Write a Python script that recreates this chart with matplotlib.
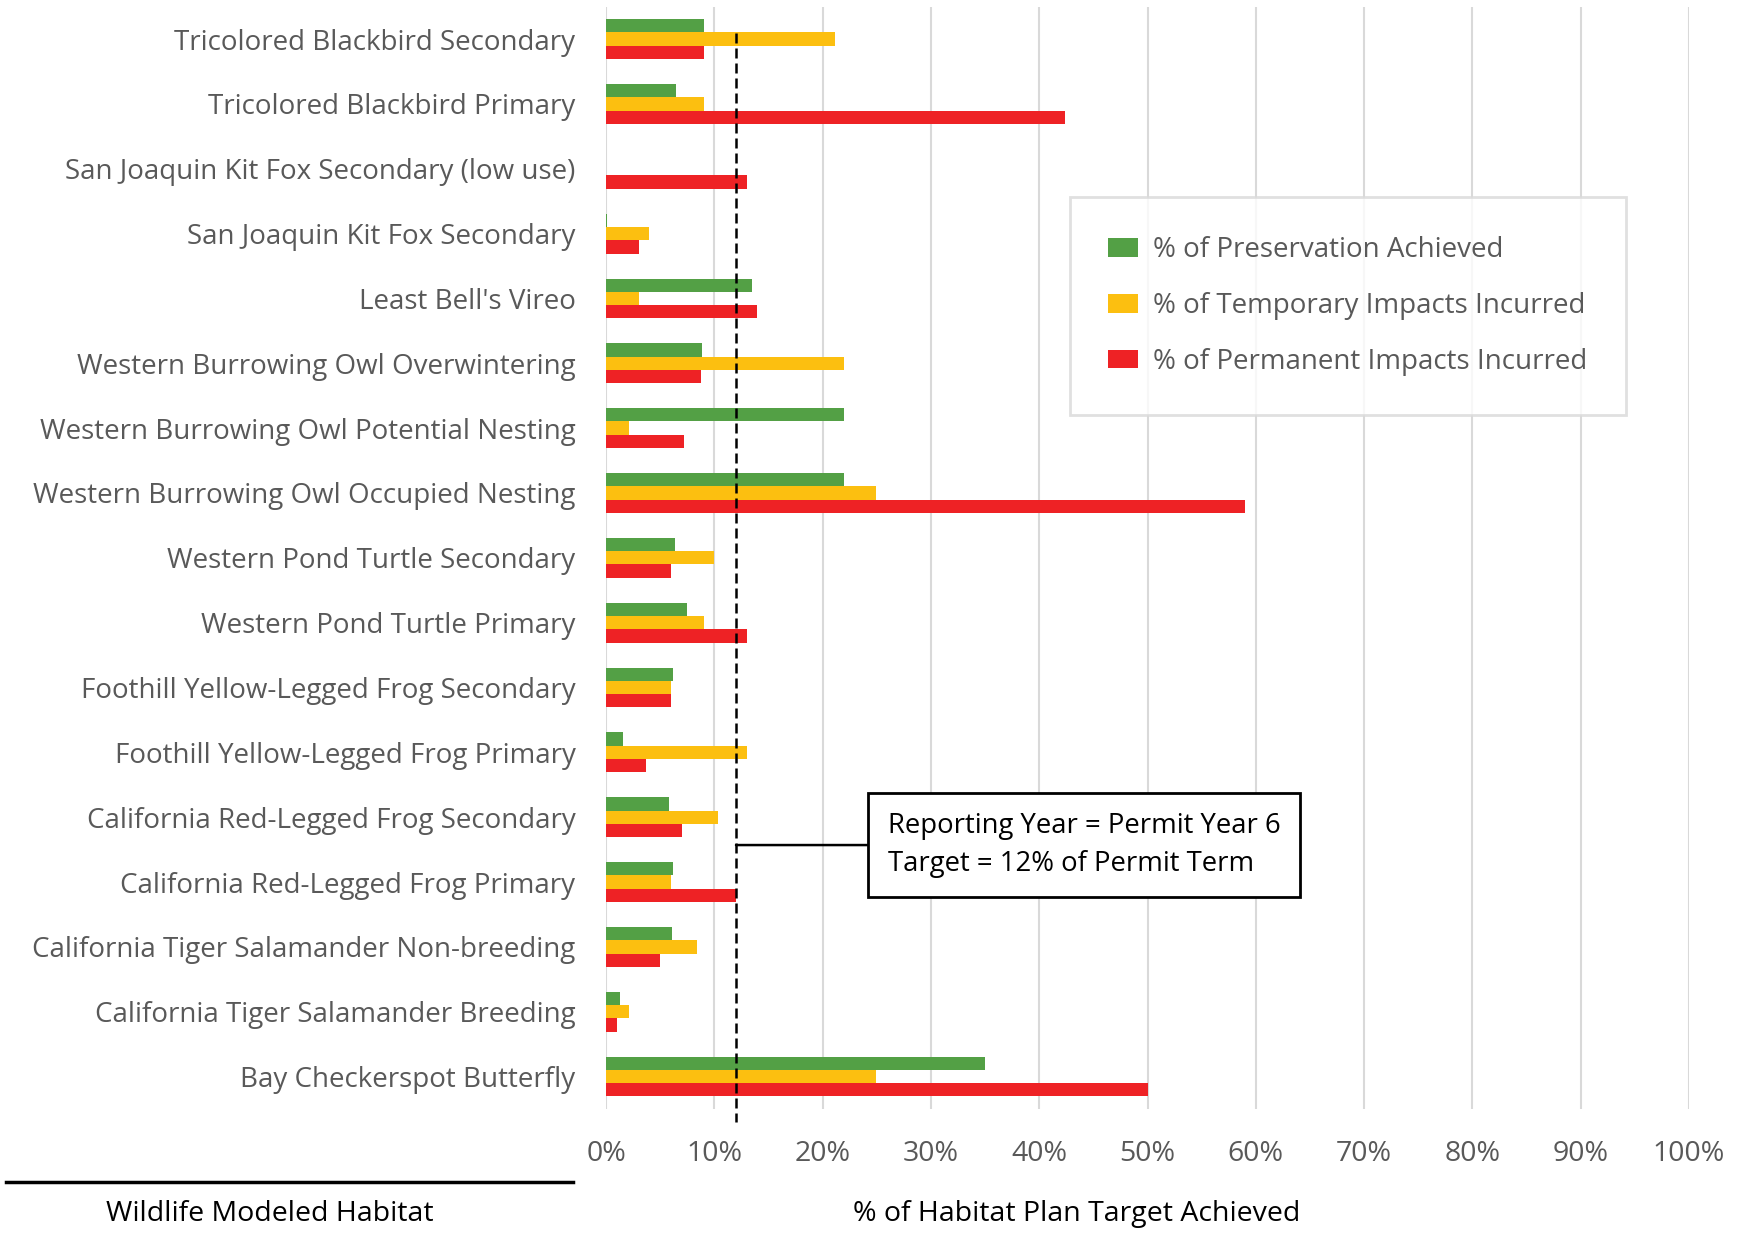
import matplotlib
matplotlib.use("Agg")
import matplotlib.pyplot as plt
import numpy as np

plt.rcParams['font.family'] = ['Open Sans', 'DejaVu Sans']

# habitat categories, top to bottom
habitats = [
    "Tricolored Blackbird Secondary",
    "Tricolored Blackbird Primary",
    "San Joaquin Kit Fox Secondary (low use)",
    "San Joaquin Kit Fox Secondary",
    "Least Bell's Vireo",
    "Western Burrowing Owl Overwintering",
    "Western Burrowing Owl Potential Nesting",
    "Western Burrowing Owl Occupied Nesting",
    "Western Pond Turtle Secondary",
    "Western Pond Turtle Primary",
    "Foothill Yellow-Legged Frog Secondary",
    "Foothill Yellow-Legged Frog Primary",
    "California Red-Legged Frog Secondary",
    "California Red-Legged Frog Primary",
    "California Tiger Salamander Non-breeding",
    "California Tiger Salamander Breeding",
    "Bay Checkerspot Butterfly",
]

# percent values
preservation = [9.0, 6.5, 0.0, 0.1, 13.5, 8.9, 22.0, 22.0, 6.4, 7.5, 6.2, 1.6, 5.8, 6.2, 6.1, 1.3, 35.0]
temporary = [21.1, 9.0, 0.0, 4.0, 3.0, 22.0, 2.1, 24.9, 10.0, 9.0, 6.0, 13.0, 10.3, 6.0, 8.4, 2.1, 24.9]
permanent = [9.0, 42.4, 13.0, 3.0, 13.9, 8.8, 7.2, 59.0, 6.0, 13.0, 6.0, 3.7, 7.0, 12.0, 5.0, 1.0, 50.0]

target = 12
series_names = ["% of Preservation Achieved", "% of Temporary Impacts Incurred", "% of Permanent Impacts Incurred"]
colors = ["#53A045", "#FCBF10", "#EE2225"]

fig = plt.figure(figsize=(17.44, 12.33), dpi=100)
ax = fig.add_axes([0.3475, 0.1006, 0.621, 0.894])

y = np.arange(len(habitats))
h = 0.205
ax.barh(y - h, preservation, height=h, color=colors[0], label=series_names[0], zorder=3)
ax.barh(y, temporary, height=h, color=colors[1], label=series_names[1], zorder=3)
ax.barh(y + h, permanent, height=h, color=colors[2], label=series_names[2], zorder=3)

ax.set_xlim(0, 100)
ax.set_ylim(len(habitats) - 0.5, -0.5)
ax.set_xticks(np.arange(0, 101, 10))
ax.set_xticklabels([f"{v}%" for v in range(0, 101, 10)])
ax.set_yticks(y)
ax.set_yticklabels(habitats)
ax.grid(axis='x', color='#d9d9d9', linewidth=1.5, zorder=0)
for s in ax.spines.values():
    s.set_visible(False)
ax.tick_params(axis='both', length=0, colors='#595959')
ax.tick_params(axis='x', pad=22, labelsize=20.5)
ax.tick_params(axis='y', pad=22, labelsize=20)

# target line
ax.plot([target, target], [-0.1, len(habitats) - 0.3], color='black', linestyle=(0, (4, 2)),
        linewidth=1.8, zorder=4, clip_on=False)

# annotation box
ax.annotate("Reporting Year = Permit Year 6\nTarget = 12% of Permit Term",
            xy=(target, 12.43), xytext=(26.0, 12.43), fontsize=19.8, color='black',
            va='center', ha='left', linespacing=1.45,
            bbox=dict(boxstyle='square,pad=0.7', fc='white', ec='black', lw=2),
            arrowprops=dict(arrowstyle='-', color='black', lw=1.8, shrinkA=0, shrinkB=0),
            zorder=5)

leg = ax.legend(loc='upper left', bbox_to_anchor=(0.428, 0.827), fontsize=20, frameon=True,
                fancybox=False, edgecolor='#d9d9d9', handlelength=1.05, handleheight=0.65,
                labelspacing=1.0, borderpad=1.4, borderaxespad=0, handletextpad=0.55)
leg.get_frame().set_linewidth(2)
for t in leg.get_texts():
    t.set_color('#595959')

# bottom labels
fig.text(270 / 1744, 1 - 1214 / 1233, "Wildlife Modeled Habitat", ha='center', va='center',
         fontsize=20.5, color='black')
fig.text(1077 / 1744, 1 - 1214 / 1233, "% of Habitat Plan Target Achieved", ha='center', va='center',
         fontsize=20.5, color='black')
fig.add_artist(plt.Line2D([6 / 1744, 573 / 1744], [1 - 1182 / 1233] * 2, color='black', lw=2.5))

fig.savefig("out.png", dpi=100)
